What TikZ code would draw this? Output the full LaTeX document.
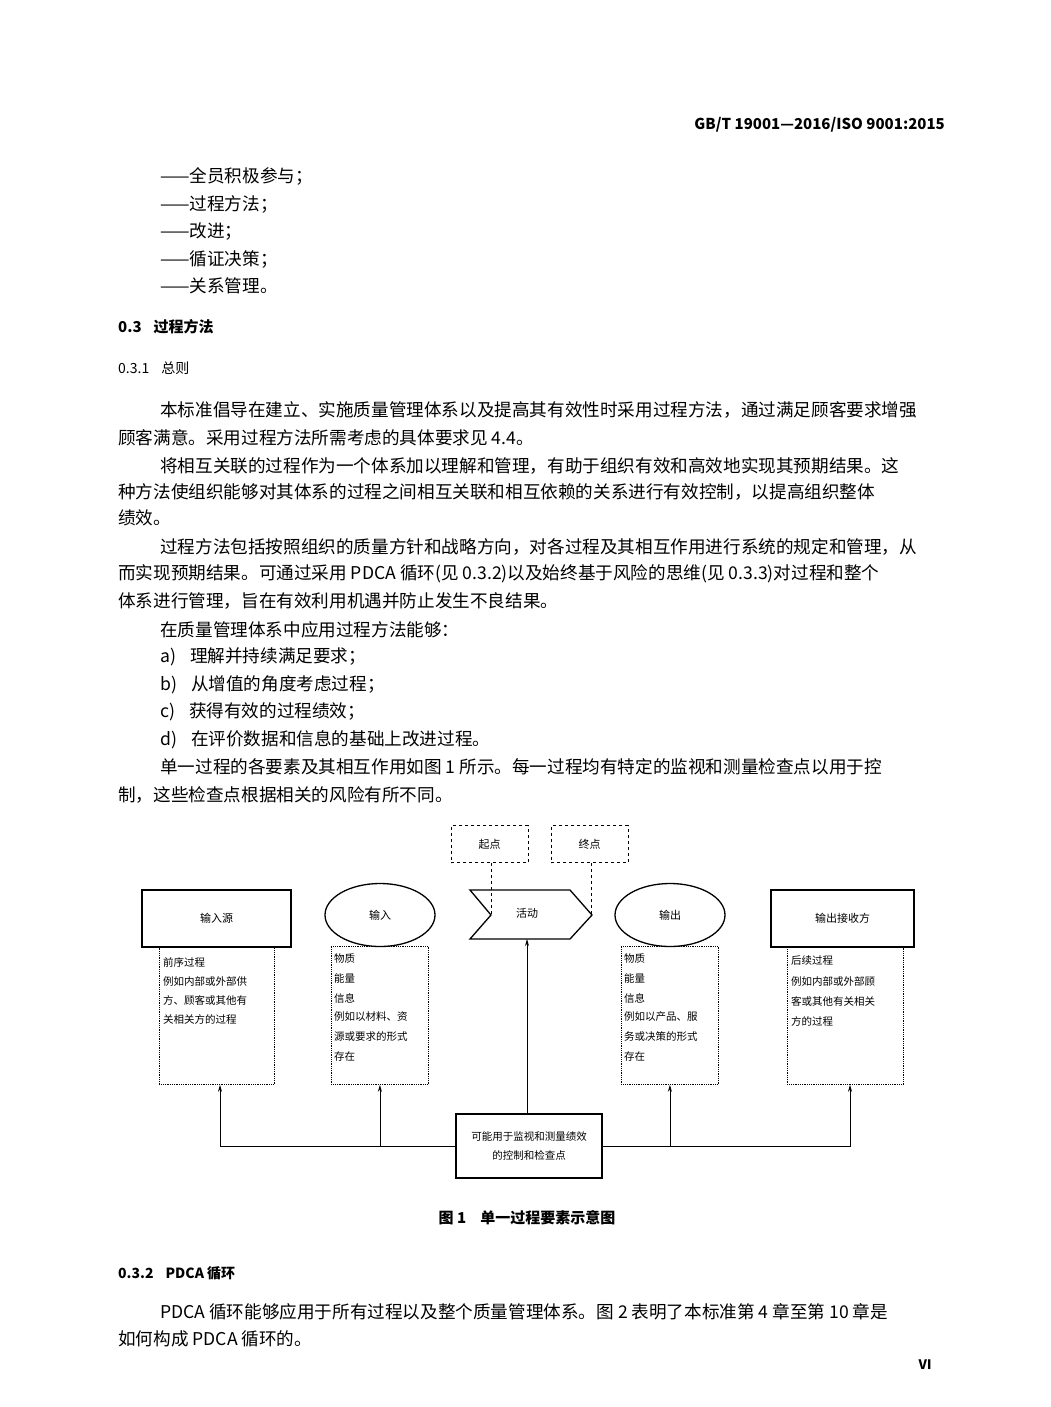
\documentclass[tikz,border=0pt]{standalone}
\usepackage{fontspec}
\setmainfont{Noto Sans CJK SC}
\usetikzlibrary{arrows.meta,shapes}

\tikzset{
  txt/.style={anchor=west,inner sep=0pt,font=\fontsize{17.6}{19}\selectfont},
  solidbox/.style={draw,line width=1.3pt,minimum width=149pt,minimum height=57pt,font=\fontsize{11}{13}\selectfont},
  dotbox/.style={draw,densely dotted,thick,anchor=north west,inner sep=0pt},
  dashbox/.style={draw,dashed,thick,minimum width=77pt,minimum height=37pt,font=\fontsize{11}{13}\selectfont},
  oval/.style={draw,line width=1.3pt,ellipse,minimum width=110pt,minimum height=63pt,font=\fontsize{11}{13}\selectfont},
  small/.style={anchor=west,inner sep=0pt,font=\fontsize{10.5}{12}\selectfont},
  link/.style={thick,-{Stealth[length=7pt,width=4pt]}}
}

\begin{document}
\begin{tikzpicture}[x=1pt,y=-1pt]
\useasboundingbox (0,0) rectangle (1051,1407);

% page header
\node [anchor=east,inner sep=0pt,font=\fontsize{15}{17}\selectfont\bfseries] (hdr) at (945,125) {GB/T 19001—2016/ISO 9001:2015};

% list of principles
\node [txt] (pr1) at (160,176) {——全员积极参与；};
\node [txt] (pr2) at (160,204) {——过程方法；};
\node [txt] (pr3) at (160,232) {——改进；};
\node [txt] (pr4) at (160,259) {——循证决策；};
\node [txt] (pr5) at (160,286) {——关系管理。};

% section headings
\node [txt,font=\fontsize{15}{17}\selectfont\bfseries] (sec03) at (118,327) {0.3\hspace{12pt}过程方法};
\node [txt,font=\fontsize{14}{16}\selectfont] (sec031) at (118,368) {0.3.1\hspace{12pt}总则};

% paragraphs
\node [txt] (p1a) at (160,410) {本标准倡导在建立、实施质量管理体系以及提高其有效性时采用过程方法，通过满足顾客要求增强};
\node [txt] (p1b) at (118,438) {顾客满意。采用过程方法所需考虑的具体要求见 4.4。};
\node [txt] (p2a) at (160,466) {将相互关联的过程作为一个体系加以理解和管理，有助于组织有效和高效地实现其预期结果。这};
\node [txt] (p2b) at (118,492) {种方法使组织能够对其体系的过程之间相互关联和相互依赖的关系进行有效控制，以提高组织整体};
\node [txt] (p2c) at (118,518) {绩效。};
\node [txt] (p3a) at (160,547) {过程方法包括按照组织的质量方针和战略方向，对各过程及其相互作用进行系统的规定和管理，从};
\node [txt] (p3b) at (118,574) {而实现预期结果。可通过采用 PDCA 循环(见 0.3.2)以及始终基于风险的思维(见 0.3.3)对过程和整个};
\node [txt] (p3c) at (118,601) {体系进行管理，旨在有效利用机遇并防止发生不良结果。};
\node [txt] (p4) at (160,630) {在质量管理体系中应用过程方法能够：};
\node [txt] (la) at (160,657) {a)\hspace{14pt}理解并持续满足要求；};
\node [txt] (lb) at (160,685) {b)\hspace{14pt}从增值的角度考虑过程；};
\node [txt] (lc) at (160,712) {c)\hspace{14pt}获得有效的过程绩效；};
\node [txt] (ld) at (160,740) {d)\hspace{14pt}在评价数据和信息的基础上改进过程。};
\node [txt] (p5a) at (160,767) {单一过程的各要素及其相互作用如图 1 所示。每一过程均有特定的监视和测量检查点以用于控};
\node [txt] (p5b) at (118,795) {制，这些检查点根据相关的风险有所不同。};

% figure 1
\node [dashbox] (start) at (489.5,844) {起点};
\node [dashbox] (end) at (589.5,844) {终点};

\node [solidbox] (src) at (216.5,918.5) {输入源};
\node [dotbox,minimum width=115pt,minimum height=137pt] (srcd) at (159,947) {};
\node [small] (s1) at (163,962) {前序过程};
\node [small] (s2) at (163,981) {例如内部或外部供};
\node [small] (s3) at (163,1000) {方、顾客或其他有};
\node [small] (s4) at (163,1019) {关相关方的过程};

\node [oval] (in) at (380,915) {输入};
\node [dotbox,minimum width=97pt,minimum height=138pt] (ind) at (331,946) {};
\node [small] (i1) at (334,958) {物质};
\node [small] (i2) at (334,978) {能量};
\node [small] (i3) at (334,998) {信息};
\node [small] (i4) at (334,1017) {例如以材料、资};
\node [small] (i5) at (334,1037) {源或要求的形式};
\node [small] (i6) at (334,1056) {存在};

% activity chevron
\draw [line width=1.3pt] (470,890) -- (570,890) -- (592,915) -- (570,939) -- (470,939) -- (491,915) -- cycle;
\node [font=\fontsize{11}{13}\selectfont] (act) at (527,913) {活动};
\coordinate (actb) at (527,939);
\coordinate (notch) at (491,915);
\coordinate (tip) at (591,915);
\draw [dashed,thick] (start.south -| notch) -- (notch);
\draw [dashed,thick] (end.south -| tip) -- (tip);

\node [oval] (out) at (670,915) {输出};
\node [dotbox,minimum width=97pt,minimum height=138pt] (outd) at (621,946) {};
\node [small] (o1) at (624,958) {物质};
\node [small] (o2) at (624,978) {能量};
\node [small] (o3) at (624,998) {信息};
\node [small] (o4) at (624,1017) {例如以产品、服};
\node [small] (o5) at (624,1037) {务或决策的形式};
\node [small] (o6) at (624,1056) {存在};

\node [solidbox,minimum width=143pt] (rcv) at (842.5,918.5) {输出接收方};
\node [dotbox,minimum width=116pt,minimum height=137pt] (rcvd) at (787,947) {};
\node [small] (r1) at (791,961) {后续过程};
\node [small] (r2) at (791,981) {例如内部或外部顾};
\node [small] (r3) at (791,1001) {客或其他有关相关};
\node [small] (r4) at (791,1021) {方的过程};

\node [draw,line width=1.3pt,minimum width=146pt,minimum height=64pt,align=center,font=\fontsize{10.5}{19}\selectfont] (chk) at (529,1146) {可能用于监视和测量绩效\\的控制和检查点};

% connectors
\draw [link] (chk.north -| actb) -- (actb);
\draw [link] (chk.west) -| ([xshift=61pt]srcd.south west);
\draw [link] (chk.west) -| (ind.south);
\draw [link] (chk.east) -| (outd.south);
\draw [link] (chk.east) -| ([xshift=63pt]rcvd.south west);

\node [inner sep=0pt,font=\fontsize{15}{17}\selectfont\bfseries] (cap) at (527,1218) {图 1\hspace{14pt}单一过程要素示意图};

% section 0.3.2
\node [txt,font=\fontsize{14}{16}\selectfont\bfseries] (sec032) at (118,1273) {0.3.2\hspace{12pt}PDCA 循环};
\node [txt] (p6a) at (160,1312) {PDCA 循环能够应用于所有过程以及整个质量管理体系。图 2 表明了本标准第 4 章至第 10 章是};
\node [txt] (p6b) at (118,1339) {如何构成 PDCA 循环的。};

\node [inner sep=0pt,font=\fontsize{13}{15}\selectfont\bfseries] (pg) at (925,1365) {Ⅵ};
\end{tikzpicture}
\end{document}
